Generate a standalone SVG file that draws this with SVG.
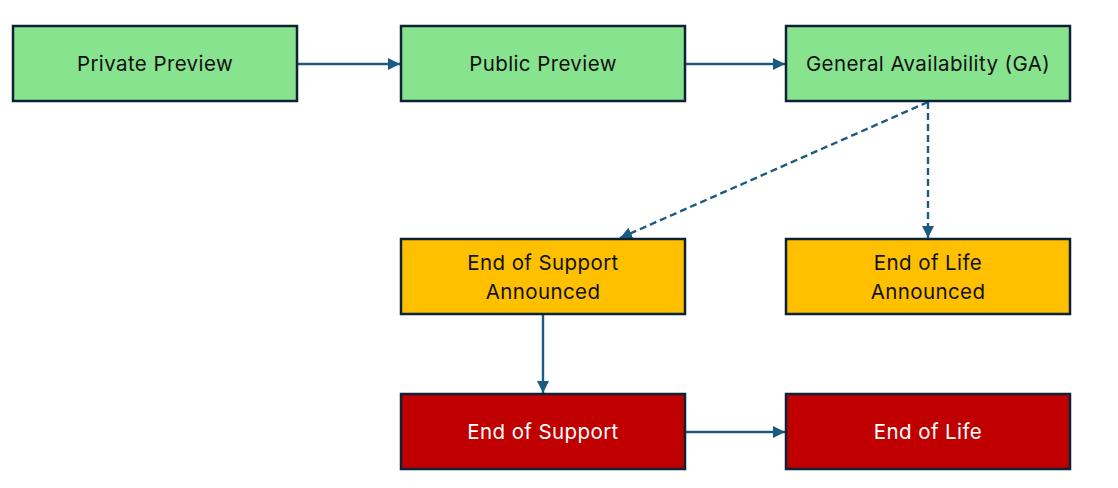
<svg xmlns="http://www.w3.org/2000/svg" width="1118" height="488" viewBox="0 0 1118 488">
<style>
.box{stroke:#0E2237;stroke-width:2.5}
.g{fill:#88E38F}.y{fill:#FFC000}.r{fill:#C00000}
.t{font-family:Inter,"Noto Sans","Liberation Sans",sans-serif;font-size:20.5px;letter-spacing:0.4px;text-anchor:middle;fill:#111}
.w{fill:#fff}
.c{stroke:#1B5B80;stroke-width:2.4;fill:none}
.d{stroke-dasharray:7 4}
</style>
<defs>
<marker id="ah" viewBox="0 0 10 10" refX="10" refY="5" markerWidth="5" markerHeight="5" orient="auto" markerUnits="strokeWidth">
<path d="M0,0 L10,5 L0,10 z" fill="#1B5B80"/>
</marker>
</defs>
<g id="connectors">
<line class="c" x1="298" y1="64" x2="400" y2="64" marker-end="url(#ah)"/>
<line class="c" x1="686" y1="64" x2="785" y2="64" marker-end="url(#ah)"/>
<line class="c d" x1="928" y1="102" x2="620" y2="238" marker-end="url(#ah)"/>
<line class="c d" x1="928" y1="102" x2="928" y2="238" marker-end="url(#ah)"/>
<line class="c" x1="543" y1="315" x2="543" y2="393" marker-end="url(#ah)"/>
<line class="c" x1="686" y1="432" x2="785" y2="432" marker-end="url(#ah)"/>
</g>
<g id="private-preview"><rect class="box g" x="13" y="26" width="284" height="75"/><text class="t" x="155" y="71">Private Preview</text></g>
<g id="public-preview"><rect class="box g" x="401" y="26" width="284" height="75"/><text class="t" x="543" y="71">Public Preview</text></g>
<g id="ga"><rect class="box g" x="786" y="26" width="284" height="75"/><text class="t" x="928" y="71">General Availability (GA)</text></g>
<g id="eos-announced"><rect class="box y" x="401" y="239" width="284" height="75"/><text class="t" x="543" y="270">End of Support</text><text class="t" x="543" y="299">Announced</text></g>
<g id="eol-announced"><rect class="box y" x="786" y="239" width="284" height="75"/><text class="t" x="928" y="270">End of Life</text><text class="t" x="928" y="299">Announced</text></g>
<g id="eos"><rect class="box r" x="401" y="394" width="284" height="75"/><text class="t w" x="543" y="439">End of Support</text></g>
<g id="eol"><rect class="box r" x="786" y="394" width="284" height="75"/><text class="t w" x="928" y="439">End of Life</text></g>
</svg>
